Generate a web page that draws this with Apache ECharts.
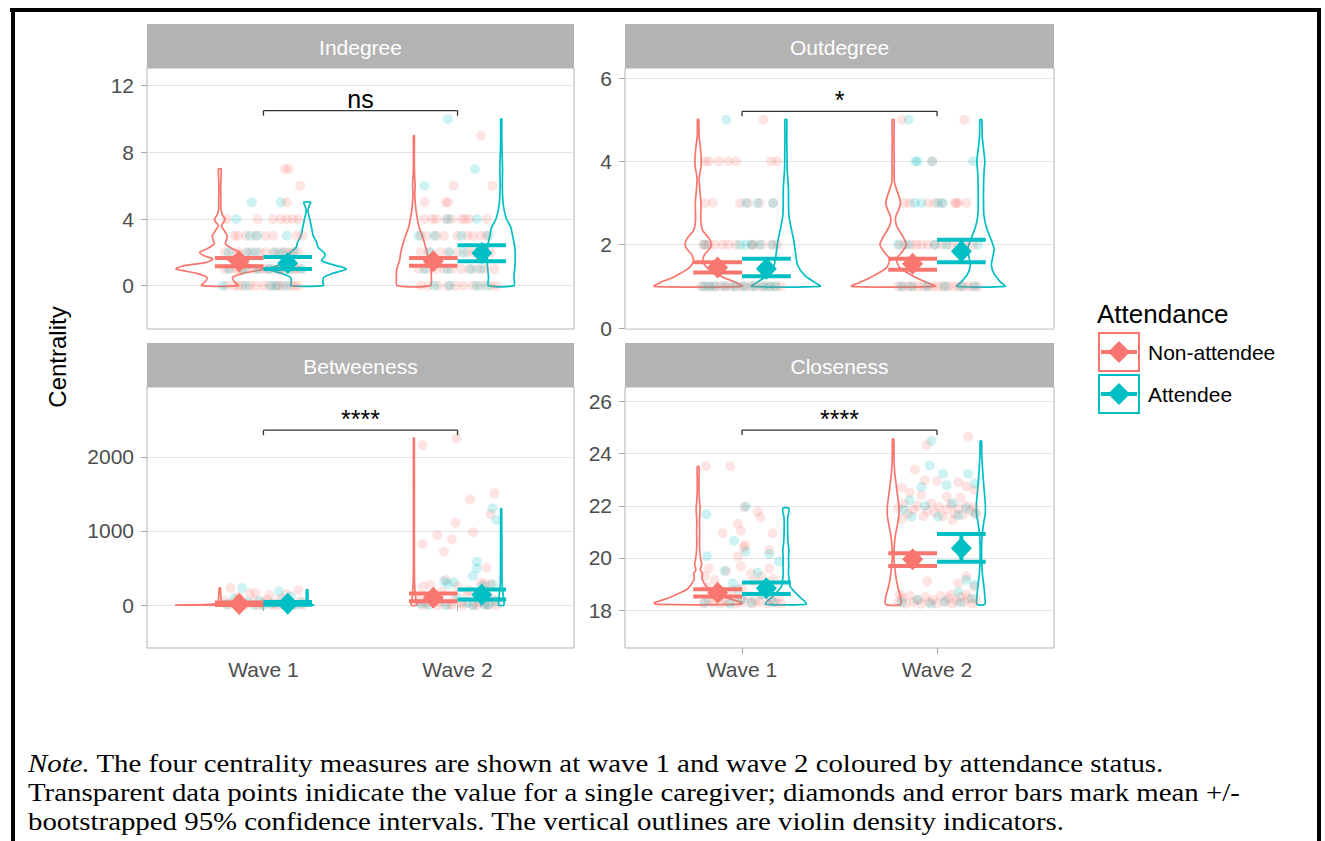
<!DOCTYPE html>
<html><head><meta charset="utf-8">
<script src="https://cdn.jsdelivr.net/npm/echarts@6/dist/echarts.min.js"></script>
<style>html,body{margin:0;padding:0;background:#fff}#c{width:1325px;height:841px}</style>
</head><body><div id="c"></div>
<script>
// ---------- categories ----------
const waves = ['Wave 1', 'Wave 2'];
const groups = ['Non-attendee', 'Attendee'];
const panelNames = ['Indegree', 'Outdegree', 'Betweeness', 'Closeness'];

// ---------- y tick labels ----------
const ticksIndegree = [0, 4, 8, 12];
const ticksOutdegree = [0, 2, 4, 6];
const ticksBetween = [0, 1000, 2000];
const ticksClose = [18, 20, 22, 24, 26];

// ---------- means and bootstrapped 95% CI: rows = [Non-attendee, Attendee], cols = [Wave 1, Wave 2] ----------
const indegreeMean = [[1.46, 1.46], [1.35, 1.96]];
const indegreeLow  = [[1.16, 1.20], [1.00, 1.46]];
const indegreeHigh = [[1.66, 1.66], [1.72, 2.42]];
const outdegreeMean = [[1.45, 1.54], [1.42, 1.84]];
const outdegreeLow  = [[1.33, 1.40], [1.24, 1.58]];
const outdegreeHigh = [[1.58, 1.66], [1.66, 2.12]];
const betweenMean = [[15, 100], [18, 140]];
const betweenLow  = [[0, 50], [5, 75]];
const betweenHigh = [[35, 155], [40, 210]];
const closeMean = [[18.67, 19.95], [18.84, 20.37]];
const closeLow  = [[18.52, 19.69], [18.62, 19.85]];
const closeHigh = [[18.80, 20.18], [19.06, 20.92]];

// ---------- significance brackets ----------
const bracketY = [10.5, 5.2, 2359, 24.9];
const sigLabels = ['ns', '*', '****', '****'];

// ---------- individual caregivers: [jitter offset, value] ----------
const ptsIndegreeW1Non = [[0.11,7],[0.13,7],[0.19,6],[0.12,5],
 [-0.19,4],[-0.03,4],[0.05,4],[0.09,4],[0.12,4],[0.15,4],[0.18,4],
 [-0.15,3],[-0.13,3],[-0.09,3],[-0.04,3],[0.01,3],[0.05,3],[0.17,3],[0.2,3],
 [-0.2,2],[-0.16,2],[-0.13,2],[-0.09,2],[-0.06,2],[-0.02,2],[0.01,2],[0.05,2],[0.08,2],[0.11,2],[0.13,2],[0.15,2],[0.18,2],
 [-0.2,1],[-0.17,1],[-0.14,1],[-0.12,1],[-0.11,1],[-0.08,1],[-0.05,1],[-0.02,1],[0,1],[0.02,1],[0.04,1],[0.07,1],[0.09,1],[0.1,1],[0.13,1],[0.16,1],[0.17,1],[0.19,1],
 [-0.19,0],[-0.15,0],[-0.13,0],[-0.11,0],[-0.07,0],[-0.04,0],[0,0],[0.03,0],[0.06,0],[0.08,0],[0.1,0],[0.14,0],[0.16,0],[0.18,0]];
const ptsIndegreeW1Att = [[-0.06,5],[0.09,5],[-0.14,4],
 [-0.07,3],[-0.03,3],[0.12,3],
 [-0.18,2],[-0.08,2],[-0.04,2],[0.06,2],[0.1,2],[0.16,2],
 [-0.18,1],[-0.1,1],[-0.03,1],[0.03,1],[0.08,1],[0.14,1],[0.2,1],
 [-0.21,0],[-0.09,0],[0.04,0],[0.07,0],[0.12,0]];
const ptsIndegreeW2Non = [[0.12,9],[-0.02,6],[0.18,6],[-0.17,5],[-0.06,5],[-0.05,5],
 [-0.17,4],[-0.13,4],[-0.11,4],[-0.06,4],[-0.03,4],[0.02,4],[0.04,4],[0.06,4],[0.15,4],
 [-0.19,3],[-0.16,3],[-0.11,3],[-0.07,3],[0,3],[0.05,3],[0.08,3],[0.12,3],[0.15,3],
 [-0.19,2],[-0.15,2],[-0.09,2],[-0.05,2],[0,2],[0.05,2],[0.08,2],[0.12,2],[0.17,2],
 [-0.2,1],[-0.16,1],[-0.11,1],[-0.07,1],[-0.03,1],[0.02,1],[0.06,1],[0.1,1],[0.14,1],[0.19,1],
 [-0.19,0],[-0.15,0],[-0.1,0],[-0.05,0],[-0.01,0],[0.03,0],[0.08,0],[0.12,0],[0.17,0],[0.2,0]];
const ptsIndegreeW2Att = [[-0.05,10],[0.09,7],[-0.17,6],[-0.05,4],[0.1,4],
 [-0.2,3],[-0.12,3],[0.02,3],[0.16,3],
 [-0.14,2],[-0.04,2],[0.03,2],[0.14,2],
 [-0.17,1],[-0.05,1],[0.07,1],[0.12,1],
 [-0.12,0],[-0.04,0],[0.1,0],[0.15,0]];

const ptsOutdegreeW1Non = [[0.11,5],
 [-0.19,4],[-0.17,4],[-0.12,4],[-0.07,4],[-0.03,4],[0.15,4],[0.18,4],
 [-0.19,3],[-0.15,3],[-0.01,3],[0.03,3],[0.09,3],[0.16,3],
 [-0.2,2],[-0.19,2],[-0.17,2],[-0.14,2],[-0.1,2],[-0.07,2],[-0.03,2],[0.05,2],[0.06,2],[0.1,2],[0.15,2],[0.18,2],
 [-0.21,1],[-0.185,1],[-0.16,1],[-0.134,1],[-0.108,1],[-0.082,1],[-0.057,1],[-0.031,1],[-0.005,1],[0.021,1],[0.046,1],[0.072,1],[0.098,1],[0.123,1],[0.149,1],[0.175,1],[0.2,1]];
const ptsOutdegreeW1Att = [[-0.08,5],
 [0.02,3],[0.08,3],[0.16,3],
 [-0.19,2],[-0.01,2],[0.02,2],[0.05,2],[0.09,2],[0.16,2],
 [-0.2,1],[-0.17,1],[-0.14,1],[-0.09,1],[-0.04,1],[0.01,1],[0.06,1],[0.11,1],[0.14,1],[0.17,1]];
const ptsOutdegreeW2Non = [[-0.18,5],[0.14,5],[-0.025,4],
 [-0.166,3],[-0.14,3],[-0.046,3],[-0.011,3],[0.023,3],[0.091,3],[0.1,3],[0.109,3],[0.151,3],
 [-0.19,2],[-0.166,2],[-0.131,2],[-0.106,2],[-0.08,2],[-0.046,2],[-0.011,2],[0.023,2],[0.066,2],[0.109,2],[0.143,2],[0.186,2],
 [-0.2,1],[-0.174,1],[-0.148,1],[-0.123,1],[-0.097,1],[-0.071,1],[-0.046,1],[-0.02,1],[0.006,1],[0.032,1],[0.057,1],[0.083,1],[0.109,1],[0.134,1],[0.16,1],[0.186,1],[0.211,1]];
const ptsOutdegreeW2Att = [[-0.145,5],[-0.11,4],[-0.1,4],[-0.025,4],[0.185,4],
 [-0.114,3],[-0.08,3],[0.006,3],[0.031,3],
 [-0.2,2],[-0.149,2],[-0.011,2],[0.049,2],[0.21,2],
 [-0.183,1],[-0.131,1],[-0.054,1],[0.04,1],[0.126,1],[0.194,1]];

const ptsBetweenW1Non = [[-0.17,229],[-0.07,161],[0.18,202],[0.03,134],[-0.04,161],[0.12,150],[-0.13,110],
 [-0.2,60],[-0.16,30],[-0.12,80],[-0.09,20],[-0.05,50],[-0.01,10],[0.02,70],[0.06,25],[0.09,90],[0.13,40],[0.16,15],[0.19,55],
 [-0.18,5],[-0.1,0],[-0.03,0],[0.04,0],[0.1,5],[0.15,0],[0.2,0],[-0.14,0],[0,35],[0.07,0]];
const ptsBetweenW1Att = [[-0.11,229],[0.08,184],[0.14,120],[-0.15,90],
 [-0.19,10],[-0.08,40],[-0.02,60],[0.04,20],[0.1,50],[0.17,5],[-0.13,0],[0,0],[0.12,0],[0.2,30],[-0.05,0]];
const ptsBetweenW2Non = [[-0.18,2157],[-0.005,2248],[0.19,1507],[0.065,1427],[-0.01,1112],[0.08,982],[0.17,1229],[-0.105,946],[-0.03,888],[-0.18,825],[-0.07,722],[0.15,506],
 [-0.06,340],[-0.18,250],[-0.14,273],[0,250],[0.14,287],[0.12,300],[0.17,280],
 [-0.2,60],[-0.16,20],[-0.12,100],[-0.09,40],[-0.05,10],[-0.02,70],[0.02,30],[0.05,140],[0.08,0],[0.11,50],[0.14,15],[0.18,80],[0.2,0],
 [-0.18,0],[-0.1,0],[-0.03,0],[0.03,0],[0.1,0],[0.16,0],[0.06,200],[-0.08,180]];
const ptsBetweenW2Att = [[0.18,1305],[0.2,1148],[0.1,587],[0.1,497],[0.08,394],[-0.02,309],[-0.05,283],[0.18,277],[-0.07,320],[0.13,260],
 [-0.19,20],[-0.12,60],[-0.06,0],[0,100],[0.05,30],[0.11,150],[0.16,10],[0.2,50],[-0.15,0],[0.08,0],[0.14,0]];

const ptsCloseW1Non = [[-0.185,23.52],[-0.06,23.52],[0.012,21.94],[0.08,21.78],[0.094,21.56],[-0.02,21.31],[-0.005,21.05],[-0.1,20.95],[0.158,20.95],[0.015,20.5],[0.01,20.4],[-0.02,20.07],[0.14,20.3],
 [-0.17,19.6],[-0.005,19.67],[0.14,19.6],[-0.14,19.16],[0.046,19.41],[0.1,19.29],[-0.19,19.3],[-0.08,19.5],[0.06,19.1],[0.16,19.2],
 [-0.2,18.25],[-0.17,18.4],[-0.15,18.3],[-0.13,18.6],[-0.11,18.25],[-0.09,18.45],[-0.07,18.3],[-0.05,18.75],[-0.03,18.25],[-0.01,18.4],[0.01,18.3],[0.03,18.55],
 [0.05,18.25],[0.07,18.35],[0.09,18.3],[0.11,18.6],[0.13,18.25],[0.15,18.4],[0.17,18.3],[0.19,18.5],[0.2,18.25],[-0.18,18.9],[0,18.85]];
const ptsCloseW1Att = [[-0.183,21.67],[0.02,21.97],[-0.04,20.66],[-0.18,20.07],[0.14,20.15],[0.02,20.24],[-0.09,19.51],[-0.048,19.03],[0.08,19.44],[0.19,19.86],
 [-0.19,18.3],[-0.12,18.5],[-0.06,18.25],[0,18.4],[0.05,18.3],[0.1,18.6],[0.16,18.3],[-0.02,18.8],[0.12,18.9]];
const ptsCloseW2Non = [[0.16,24.64],[-0.054,24.32],[-0.114,23.38],[-0.063,22.97],[0.109,22.9],[0,22.95],[-0.18,22.7],[-0.14,22.5],[0.15,22.75],[0.19,22.6],[-0.08,22.4],[0.05,22.35],[0.12,22.3],
 [-0.2,21.9],[-0.17,22.1],[-0.15,21.7],[-0.12,21.85],[-0.1,22],[-0.07,21.6],[-0.05,21.8],[-0.03,22.1],[-0.01,21.75],[0.01,21.95],[0.03,21.6],[0.05,21.85],
 [0.07,22.05],[0.09,21.7],[0.11,21.9],[0.13,21.65],[0.15,22],[0.17,21.8],[0.19,21.95],[0.2,21.7],[-0.18,21.5],[0.08,21.45],
 [0.109,19.03],[0.15,19.3],[0.19,18.9],[-0.05,19.1],
 [-0.2,18.3],[-0.18,18.45],[-0.16,18.25],[-0.14,18.55],[-0.12,18.3],[-0.1,18.4],[-0.08,18.25],[-0.06,18.5],[-0.04,18.3],[-0.02,18.4],[0,18.25],[0.02,18.55],
 [0.04,18.3],[0.06,18.45],[0.08,18.25],[0.1,18.35],[0.12,18.5],[0.14,18.3],[0.16,18.45],[0.18,18.25],[0.2,18.4],[-0.19,18.6],[0.07,18.6],[0.15,18.6]];
const ptsCloseW2Att = [[-0.029,24.48],[-0.037,23.55],[0.031,23.23],[0.16,23.23],[0.049,22.79],[-0.08,22.72],[0.194,22.85],[-0.14,22.21],[-0.131,21.58],[0.006,21.58],[0.109,21.64],[0.194,21.71],[-0.06,22],[0.08,22.1],[0.15,21.9],[-0.17,21.85],
 [0.151,19.16],[0.194,18.97],[0.109,18.7],
 [-0.18,18.3],[-0.1,18.4],[-0.03,18.25],[0.04,18.35],[0.12,18.3],[0.18,18.45]];

// ---------- violin density profiles: [value, relative density] ----------
const vioIndegreeW1Non = [[0,0.42],[0.25,0.33],[0.5,0.29],[0.75,0.55],[1,1.0],[1.2,0.82],[1.4,0.3],[1.6,0.16],[1.8,0.36],[2,0.46],[2.2,0.3],[2.5,0.13],[2.8,0.16],[3,0.17],[3.3,0.1],[3.6,0.035],[3.85,0.1],[4,0.12],[4.25,0.06],[4.6,0.025],[5,0.025],[6,0.02],[7,0.03]];
const vioIndegreeW1Att = [[0,0.37],[0.25,0.36],[0.5,0.38],[0.75,0.6],[1,0.9],[1.25,0.6],[1.5,0.33],[1.8,0.41],[2,0.38],[2.3,0.25],[2.6,0.22],[3,0.14],[3.5,0.1],[4,0.06],[4.5,0.02],[4.8,0.05],[5,0.08]];
const vioIndegreeW2Non = [[0,0.38],[0.5,0.4],[1,0.39],[1.5,0.33],[2,0.3],[2.5,0.25],[3,0.19],[3.5,0.12],[4,0.08],[4.5,0.05],[5,0.03],[5.5,0.02],[6,0.03],[6.4,0.02],[7,0.012],[8,0.01],[9,0.01]];
const vioIndegreeW2Att = [[0,0.29],[0.5,0.29],[1,0.31],[1.5,0.32],[2,0.32],[2.5,0.3],[3,0.26],[3.5,0.22],[4,0.12],[4.5,0.07],[5,0.04],[6,0.025],[7,0.03],[8,0.02],[9,0.012],[10,0.012]];
const vioOutdegreeW1Non = [[1,1.0],[1.1,0.85],[1.2,0.6],[1.3,0.42],[1.45,0.2],[1.6,0.11],[1.75,0.14],[1.9,0.26],[2,0.3],[2.15,0.25],[2.35,0.1],[2.6,0.06],[3,0.065],[3.3,0.04],[3.6,0.025],[3.9,0.07],[4.1,0.07],[4.35,0.05],[4.6,0.02],[5,0.015]];
const vioOutdegreeW1Att = [[1,0.78],[1.1,0.65],[1.25,0.44],[1.5,0.27],[1.8,0.22],[2.1,0.18],[2.4,0.12],[2.7,0.07],[3,0.06],[3.3,0.06],[3.5,0.05],[3.8,0.03],[4.2,0.025],[4.6,0.02],[5,0.02]];
const vioOutdegreeW2Non = [[1,0.95],[1.1,0.75],[1.25,0.45],[1.45,0.15],[1.65,0.08],[1.85,0.22],[2,0.3],[2.2,0.22],[2.45,0.08],[2.65,0.055],[2.85,0.13],[3,0.17],[3.2,0.12],[3.5,0.03],[4,0.025],[4.5,0.02],[5,0.02]];
const vioOutdegreeW2Att = [[1,0.55],[1.1,0.45],[1.3,0.3],[1.5,0.24],[1.7,0.27],[1.9,0.3],[2.1,0.24],[2.4,0.13],[2.7,0.07],[3,0.06],[3.3,0.06],[3.7,0.07],[4,0.09],[4.3,0.06],[4.6,0.03],[5,0.02]];
const vioBetweenW1Non = [[0,1.0],[4,0.6],[10,0.25],[20,0.08],[40,0.04],[80,0.03],[150,0.02],[230,0.015]];
const vioBetweenW1Att = [[0,0.15],[10,0.1],[30,0.04],[80,0.02],[206,0.015]];
const vioBetweenW2Non = [[0,0.06],[100,0.04],[300,0.015],[1000,0.01],[2250,0.01]];
const vioBetweenW2Att = [[0,0.06],[100,0.05],[300,0.02],[1300,0.01]];
const vioCloseW1Non = [[18.22,0.95],[18.28,1.0],[18.45,0.7],[18.6,0.5],[18.8,0.25],[19.0,0.15],[19.2,0.09],[19.4,0.1],[19.55,0.05],[19.75,0.08],[19.95,0.06],[20.2,0.04],[20.6,0.03],[21,0.035],[21.4,0.03],[21.9,0.045],[22.2,0.03],[22.6,0.02],[23,0.02],[23.5,0.02]];
const vioCloseW1Att = [[18.22,0.46],[18.3,0.45],[18.5,0.32],[18.7,0.2],[18.9,0.1],[19.1,0.08],[19.4,0.06],[19.7,0.065],[20,0.06],[20.3,0.07],[20.6,0.05],[21,0.04],[21.5,0.04],[21.9,0.07]];
const vioCloseW2Non = [[18.22,0.17],[18.5,0.17],[18.8,0.12],[19.2,0.07],[19.6,0.04],[20.0,0.02],[20.4,0.025],[20.8,0.045],[21.2,0.09],[21.6,0.13],[22.0,0.13],[22.4,0.1],[22.8,0.07],[23.3,0.035],[23.8,0.02],[24.55,0.015]];
const vioCloseW2Att = [[18.22,0.09],[18.5,0.09],[18.9,0.07],[19.3,0.04],[19.8,0.02],[20.3,0.015],[20.8,0.025],[21.3,0.06],[21.7,0.1],[22.1,0.1],[22.5,0.08],[23.0,0.055],[23.5,0.035],[24.0,0.02],[24.48,0.015]];

// ---------- styling / layout constants ----------
const COLORS = ['#F8766D', '#00BFC4'];
const SANS = "'Liberation Sans', Arial, sans-serif";
const SERIF = "'Liberation Serif', 'Times New Roman', serif";
const VIO_OFF = 0.225, VIO_HALF = 0.225, ERR_OFF = 0.125, ERR_HALF = 0.125;
const gridBoxes = [
  { left: 147, top: 68, width: 427, height: 261 },
  { left: 625, top: 68, width: 429, height: 261 },
  { left: 147, top: 387, width: 427, height: 261 },
  { left: 625, top: 387, width: 429, height: 261 }
];
const yRanges = [[-2.6, 13.06], [-0.024, 6.24], [-579, 2942], [16.55, 26.55]];

const panels = [
  { ticks: ticksIndegree, mean: indegreeMean, low: indegreeLow, high: indegreeHigh,
    pts: [[ptsIndegreeW1Non, ptsIndegreeW2Non], [ptsIndegreeW1Att, ptsIndegreeW2Att]],
    vio: [[vioIndegreeW1Non, vioIndegreeW2Non], [vioIndegreeW1Att, vioIndegreeW2Att]] },
  { ticks: ticksOutdegree, mean: outdegreeMean, low: outdegreeLow, high: outdegreeHigh,
    pts: [[ptsOutdegreeW1Non, ptsOutdegreeW2Non], [ptsOutdegreeW1Att, ptsOutdegreeW2Att]],
    vio: [[vioOutdegreeW1Non, vioOutdegreeW2Non], [vioOutdegreeW1Att, vioOutdegreeW2Att]] },
  { ticks: ticksBetween, mean: betweenMean, low: betweenLow, high: betweenHigh,
    pts: [[ptsBetweenW1Non, ptsBetweenW2Non], [ptsBetweenW1Att, ptsBetweenW2Att]],
    vio: [[vioBetweenW1Non, vioBetweenW2Non], [vioBetweenW1Att, vioBetweenW2Att]] },
  { ticks: ticksClose, mean: closeMean, low: closeLow, high: closeHigh,
    pts: [[ptsCloseW1Non, ptsCloseW2Non], [ptsCloseW1Att, ptsCloseW2Att]],
    vio: [[vioCloseW1Non, vioCloseW2Non], [vioCloseW1Att, vioCloseW2Att]] }
];

const grid = [], xAxis = [], yAxis = [], series = [];
panels.forEach((p, i) => {
  const bottom = i >= 2;
  grid.push(Object.assign({ show: true, borderColor: '#b3b3b3', borderWidth: 1, backgroundColor: '#fff', containLabel: false }, gridBoxes[i]));
  xAxis.push({
    type: 'value', gridIndex: i, min: 0.4, max: 2.6,
    axisLine: { show: false }, splitLine: { show: false },
    axisTick: { show: bottom, customValues: [1, 2], length: 6, lineStyle: { color: '#a6a6a6', width: 1 } },
    axisLabel: { show: bottom, customValues: [1, 2], formatter: v => waves[Math.round(v) - 1],
      fontSize: 21, color: '#4d4d4d', fontFamily: SANS, margin: 11 }
  });
  yAxis.push({
    type: 'value', gridIndex: i, min: yRanges[i][0], max: yRanges[i][1],
    axisLine: { show: false },
    axisTick: { show: true, customValues: p.ticks, length: 6, lineStyle: { color: '#a6a6a6', width: 1 } },
    axisLabel: { customValues: p.ticks, formatter: v => String(v), fontSize: 21, color: '#4d4d4d', fontFamily: SANS, margin: 13 },
    splitLine: { show: true, lineStyle: { color: '#e3e3e3', width: 1 } }
  });

  // violins
  const vioList = [];
  for (let g = 0; g < 2; g++) for (let w = 0; w < 2; w++) vioList.push({ g, w, prof: p.vio[g][w] });
  series.push({
    type: 'custom', xAxisIndex: i, yAxisIndex: i, silent: true, z: 2,
    data: vioList.map(v => [v.w + 1, v.prof[0][0]]),
    renderItem: (params, api) => {
      const v = vioList[params.dataIndex];
      const cx = v.w + 1 + (v.g === 0 ? -VIO_OFF : VIO_OFF);
      const right = v.prof.map(([y, d]) => api.coord([cx + d * VIO_HALF, y]));
      const left = v.prof.slice().reverse().map(([y, d]) => api.coord([cx - d * VIO_HALF, y]));
      return { type: 'polygon', shape: { points: right.concat(left), smooth: 0.25 },
        style: { fill: 'none', stroke: COLORS[v.g], lineWidth: 1.7 } };
    }
  });
  // jittered points
  for (let g = 0; g < 2; g++) {
    const data = [];
    for (let w = 0; w < 2; w++) p.pts[g][w].forEach(([o, v]) => data.push([w + 1 + o, v]));
    series.push({ type: 'scatter', xAxisIndex: i, yAxisIndex: i, silent: true, z: 3,
      symbol: 'circle', symbolSize: 10, data,
      itemStyle: { color: COLORS[g], opacity: 0.2 } });
  }
  // error bars
  const errData = [];
  for (let g = 0; g < 2; g++) for (let w = 0; w < 2; w++)
    errData.push([w + 1 + (g === 0 ? -ERR_OFF : ERR_OFF), p.low[g][w], p.high[g][w], g]);
  series.push({
    type: 'custom', xAxisIndex: i, yAxisIndex: i, silent: true, z: 4, data: errData,
    renderItem: (params, api) => {
      const x = api.value(0), lo = api.value(1), hi = api.value(2), g = api.value(3);
      const a1 = api.coord([x - ERR_HALF, lo]), a2 = api.coord([x + ERR_HALF, lo]);
      const b1 = api.coord([x - ERR_HALF, hi]), b2 = api.coord([x + ERR_HALF, hi]);
      const st = { stroke: COLORS[g], lineWidth: 4, lineCap: 'butt' };
      return { type: 'group', children: [
        { type: 'line', shape: { x1: a1[0], y1: a1[1], x2: a2[0], y2: a2[1] }, style: st },
        { type: 'line', shape: { x1: b1[0], y1: b1[1], x2: b2[0], y2: b2[1] }, style: st },
        { type: 'line', shape: { x1: (a1[0] + a2[0]) / 2, y1: a1[1], x2: (b1[0] + b2[0]) / 2, y2: b1[1] }, style: st }
      ] };
    }
  });
  // mean diamonds
  for (let g = 0; g < 2; g++) {
    series.push({ type: 'scatter', xAxisIndex: i, yAxisIndex: i, silent: true, z: 5,
      symbol: 'diamond', symbolSize: [21, 22],
      data: p.mean[g].map((m, w) => [w + 1 + (g === 0 ? -ERR_OFF : ERR_OFF), m]),
      itemStyle: { color: COLORS[g], opacity: 1 } });
  }
  // significance bracket
  series.push({
    type: 'custom', xAxisIndex: i, yAxisIndex: i, silent: true, z: 6,
    data: [[1, 2, bracketY[i]]],
    renderItem: (params, api) => {
      const p1 = api.coord([api.value(0), api.value(2)]);
      const p2 = api.coord([api.value(1), api.value(2)]);
      const st = { stroke: '#333', lineWidth: 1.3 };
      return { type: 'group', children: [
        { type: 'line', shape: { x1: p1[0], y1: p1[1], x2: p2[0], y2: p2[1] }, style: st },
        { type: 'line', shape: { x1: p1[0], y1: p1[1], x2: p1[0], y2: p1[1] + 5 }, style: st },
        { type: 'line', shape: { x1: p2[0], y1: p2[1], x2: p2[0], y2: p2[1] + 5 }, style: st },
        { type: 'text', style: { text: sigLabels[i], x: (p1[0] + p2[0]) / 2, y: p1[1] + 1,
          align: 'center', verticalAlign: 'bottom', fontSize: 25, fontFamily: SANS, fill: '#000' } }
      ] };
    }
  });
});

// strips, titles, legend, caption, frame
const graphic = [];
gridBoxes.forEach((b, i) => {
  graphic.push({ type: 'rect', shape: { x: b.left, y: b.top - 44, width: b.width, height: 44 },
    style: { fill: '#b3b3b3' }, z: 10 });
  graphic.push({ type: 'text', x: b.left + b.width / 2, y: b.top - 21,
    style: { text: panelNames[i], align: 'center', verticalAlign: 'middle', fontSize: 21, fontFamily: SANS, fill: '#ffffff' }, z: 11 });
});
graphic.push({ type: 'text', x: 57, y: 357, rotation: Math.PI / 2,
  style: { text: 'Centrality', align: 'center', verticalAlign: 'middle', fontSize: 24, fontFamily: SANS, fill: '#000' } });
graphic.push({ type: 'text', x: 1097, y: 314,
  style: { text: 'Attendance', align: 'left', verticalAlign: 'middle', fontSize: 26, fontFamily: SANS, fill: '#000' } });
groups.forEach((name, g) => {
  const top = 333 + g * 42, cy = top + 19;
  graphic.push({ type: 'rect', shape: { x: 1099, y: top, width: 40, height: 38 },
    style: { fill: '#fff', stroke: COLORS[g], lineWidth: 2 } });
  graphic.push({ type: 'line', shape: { x1: 1101, y1: cy, x2: 1137, y2: cy }, style: { stroke: COLORS[g], lineWidth: 4 } });
  graphic.push({ type: 'polygon', shape: { points: [[1119, cy - 11], [1130, cy], [1119, cy + 11], [1108, cy]] },
    style: { fill: COLORS[g] } });
  graphic.push({ type: 'text', x: 1148, y: cy,
    style: { text: name, align: 'left', verticalAlign: 'middle', fontSize: 21, fontFamily: SANS, fill: '#000' } });
});
const captionLines = [
  '{i|Note.} The four centrality measures are shown at wave 1 and wave 2 coloured by attendance status.',
  'Transparent data points inidicate the value for a single caregiver; diamonds and error bars mark mean +/-',
  'bootstrapped 95% confidence intervals. The vertical outlines are violin density indicators.'
];
captionLines.forEach((t, k) => {
  graphic.push({ type: 'text', x: 28, y: 763 + k * 29, scaleX: 1.11, scaleY: 1,
    style: { text: t, align: 'left', verticalAlign: 'middle', fontSize: 26, fontFamily: SERIF, fill: '#000',
      rich: { i: { fontStyle: 'italic', fontSize: 26, fontFamily: SERIF, fill: '#000' } } } });
});
graphic.push({ type: 'rect', shape: { x: 10, y: 8, width: 1311, height: 4 }, style: { fill: '#000' } });
graphic.push({ type: 'rect', shape: { x: 11, y: 8, width: 4, height: 833 }, style: { fill: '#000' } });
graphic.push({ type: 'rect', shape: { x: 1317, y: 8, width: 4, height: 833 }, style: { fill: '#000' } });

const chart = echarts.init(document.getElementById('c'), null, { renderer: 'svg' });
chart.setOption({ animation: false, backgroundColor: '#fff', tooltip: { show: false },
  grid, xAxis, yAxis, series, graphic });
</script></body></html>
